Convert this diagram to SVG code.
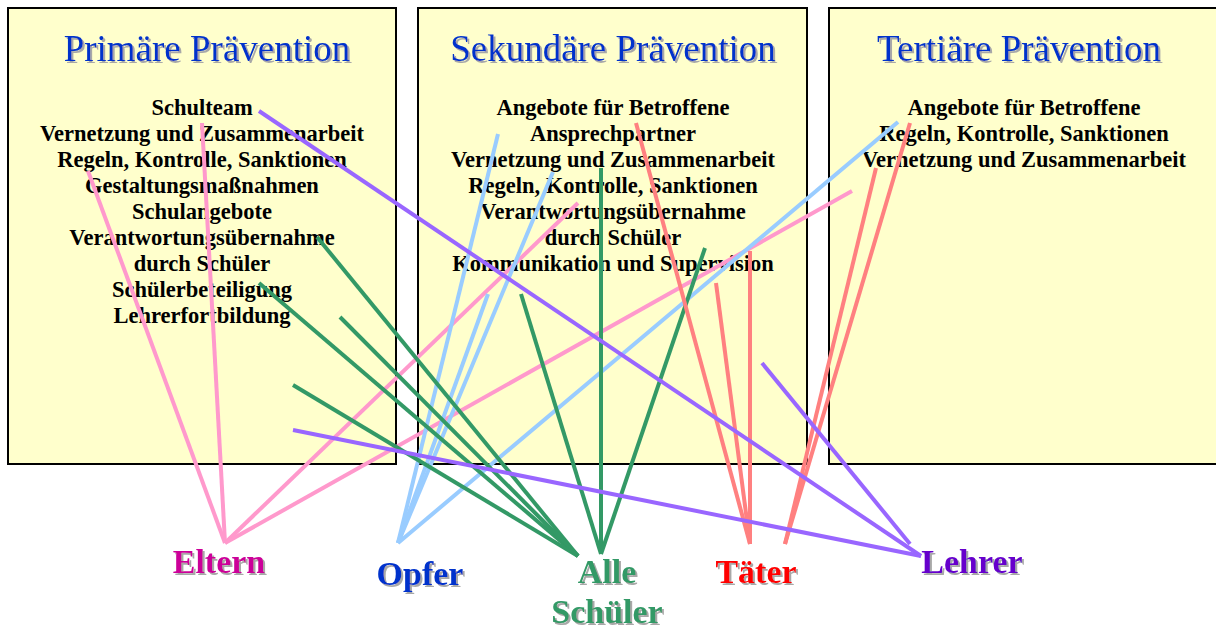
<svg xmlns="http://www.w3.org/2000/svg" width="1216" height="628" viewBox="0 0 1216 628">
<defs>
<filter id="sh" x="-10%" y="-10%" width="130%" height="140%">
<feDropShadow dx="2" dy="2" stdDeviation="0.4" flood-color="#a8a8a8" flood-opacity="1"/>
</filter>
<style>
.box{fill:#ffffcc;stroke:#000;stroke-width:2}
.title{font-family:"Liberation Serif","Times New Roman",serif;font-size:37px;fill:#0033cc;text-anchor:middle;filter:url(#sh)}
.item{font-family:"Liberation Serif","Times New Roman",serif;font-size:22.5px;font-weight:bold;fill:#000;text-anchor:middle}
.lbl{font-family:"Liberation Serif","Times New Roman",serif;font-size:34px;font-weight:bold;text-anchor:middle;filter:url(#sh)}
.c line{stroke-width:4;stroke-linecap:butt;fill:none}
.pk line{stroke:#ff99cc}
.bl line{stroke:#99ccff}
.gr line{stroke:#339966}
.rd line{stroke:#ff8080}
.pu line{stroke:#9966ff}
</style>
</defs>
<rect width="1216" height="628" fill="#fff"/>
<g id="primaer">
<rect class="box" x="8" y="8" width="388" height="456"/>
<text class="title" x="207" y="61">Primäre Prävention</text>
<text class="item" x="202" y="115">Schulteam</text>
<text class="item" x="202" y="141">Vernetzung und Zusammenarbeit</text>
<text class="item" x="202" y="167">Regeln, Kontrolle, Sanktionen</text>
<text class="item" x="202" y="193">Gestaltungsmaßnahmen</text>
<text class="item" x="202" y="219">Schulangebote</text>
<text class="item" x="202" y="245">Verantwortungsübernahme</text>
<text class="item" x="202" y="271">durch Schüler</text>
<text class="item" x="202" y="297">Schülerbeteiligung</text>
<text class="item" x="202" y="323">Lehrerfortbildung</text>
</g>
<g id="sekundaer">
<rect class="box" x="418" y="8" width="389" height="456"/>
<text class="title" x="613" y="61">Sekundäre Prävention</text>
<text class="item" x="613" y="115">Angebote für Betroffene</text>
<text class="item" x="613" y="141">Ansprechpartner</text>
<text class="item" x="613" y="167">Vernetzung und Zusammenarbeit</text>
<text class="item" x="613" y="193">Regeln, Kontrolle, Sanktionen</text>
<text class="item" x="613" y="219">Verantwortungsübernahme</text>
<text class="item" x="613" y="245">durch Schüler</text>
<text class="item" x="613" y="271">Kommunikation und Supervision</text>
</g>
<g id="tertiaer">
<rect class="box" x="829" y="8" width="395" height="456"/>
<text class="title" x="1019" y="61">Tertiäre Prävention</text>
<text class="item" x="1024" y="115">Angebote für Betroffene</text>
<text class="item" x="1024" y="141">Regeln, Kontrolle, Sanktionen</text>
<text class="item" x="1024" y="167">Vernetzung und Zusammenarbeit</text>
</g>
<g id="connectors" class="c">
<g class="pk">
<line x1="88" y1="171" x2="225" y2="543"/>
<line x1="202" y1="123" x2="225" y2="543"/>
<line x1="578" y1="203" x2="225" y2="543"/>
<line x1="852" y1="191" x2="225" y2="543"/>
</g>
<g class="bl">
<line x1="498" y1="134" x2="398" y2="543"/>
<line x1="553" y1="172" x2="398" y2="543"/>
<line x1="488" y1="294" x2="398" y2="543"/>
<line x1="898" y1="122" x2="398" y2="543"/>
</g>
<g class="gr">
<line x1="317" y1="237" x2="578" y2="556"/>
<line x1="259" y1="283" x2="578" y2="556"/>
<line x1="340" y1="317" x2="578" y2="556"/>
<line x1="293" y1="385" x2="578" y2="556"/>
<line x1="521" y1="294" x2="601" y2="554"/>
<line x1="601" y1="168" x2="601" y2="554"/>
<line x1="705" y1="248" x2="601" y2="554"/>
</g>
<g class="rd">
<line x1="636" y1="123" x2="750" y2="544"/>
<line x1="716" y1="283" x2="750" y2="544"/>
<line x1="750" y1="251" x2="750" y2="544"/>
<line x1="876" y1="168" x2="785" y2="544"/>
<line x1="910" y1="123" x2="785" y2="544"/>
</g>
<g class="pu">
<line x1="259" y1="111" x2="921" y2="556"/>
<line x1="762" y1="363" x2="910" y2="544"/>
<line x1="293" y1="430" x2="921" y2="556"/>
</g>
</g>
<g id="eltern"><text class="lbl" x="219" y="573" fill="#cc0099">Eltern</text></g>
<g id="opfer"><text class="lbl" x="420" y="585" fill="#0033cc">Opfer</text></g>
<g id="alle-schueler"><text class="lbl" x="607" y="583" fill="#339966">Alle</text><text class="lbl" x="607" y="623" fill="#339966">Schüler</text></g>
<g id="taeter"><text class="lbl" x="756" y="583" fill="#ff0000">Täter</text></g>
<g id="lehrer"><text class="lbl" x="972" y="573" fill="#6600cc">Lehrer</text></g>
</svg>
